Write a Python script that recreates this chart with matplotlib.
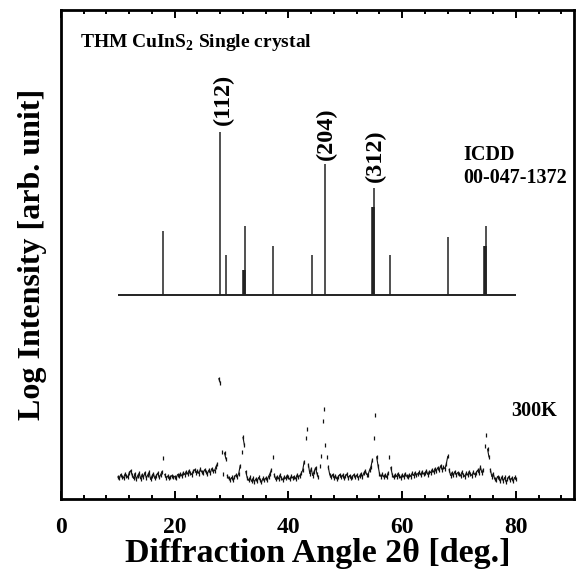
import numpy as np
import matplotlib
matplotlib.use("Agg")
import matplotlib.pyplot as plt
from matplotlib.ticker import MultipleLocator

plt.rcParams['font.family'] = ['Liberation Serif', 'DejaVu Serif']
plt.rcParams['font.weight'] = 'bold'
plt.rcParams['mathtext.fontset'] = 'custom'
plt.rcParams['mathtext.rm'] = 'Liberation Serif:bold'
plt.rcParams['mathtext.bf'] = 'Liberation Serif:bold'

# ICDD 00-047-1372 reference sticks (2theta, top level in arb. log units)
stick_pos = [18.0, 28.0, 29.0, 32.2, 32.4, 37.3, 44.1, 46.4, 54.8, 55.0, 57.8, 68.0, 74.6, 74.8]
stick_top = [54.8, 75.1, 49.8, 46.8, 55.8, 51.8, 49.8, 68.5, 59.8, 63.7, 49.8, 53.6, 51.8, 55.9]
stick_thick = [False, False, False, True, False, False, False, False, True, False, False, False, True, False]
stick_base = 41.7
stick_range = [10, 80]

# Miller index labels
hkl_labels = ['(112)', '(204)', '(312)']
hkl_x = [28.5, 46.6, 55.2]
hkl_y = [76.5, 69.3, 64.9]

# Measured XRD pattern at 300 K (2theta from 10 to 80 deg, step 0.25)
meas_start, meas_stop, meas_step = 10.0, 80.0, 0.25
meas_int = [
    4.5, 4.2, 5.0, 4.6,   4.3, 5.1, 4.8, 4.4,   5.4, 5.8, 4.9, 4.2,   5.2, 4.0, 4.8, 5.3,
    4.1, 5.0, 4.5, 5.4,   4.3, 4.9, 5.5, 4.0,   4.7, 5.2, 4.2, 4.8,   5.3, 4.4, 4.9, 5.6,
    8.4, 5.0, 4.3, 4.7,   4.2, 4.5, 4.8, 4.4,   4.6, 4.3, 5.0, 4.8,   5.2, 4.7, 5.4, 5.0,
    5.6, 5.1, 5.8, 5.3,   5.0, 5.7, 6.0, 5.4,   5.8, 5.2, 6.1, 5.5,   5.4, 6.0, 5.6, 5.2,
    5.9, 5.3, 6.2, 5.7,   5.8, 6.6, 7.2, 24.6,  23.8, 9.6, 5.2, 9.4,   8.2, 4.8, 4.2, 3.9,
    4.4, 3.8, 4.5, 4.9,   4.6, 5.2, 6.8, 9.6,   12.6, 11.0, 5.6, 4.3, 3.8, 4.4, 3.6, 4.2,
    3.5, 4.1, 3.7, 4.4,   3.9, 3.4, 4.2, 3.8,   4.3, 3.9, 4.6, 5.2,   6.0, 8.6, 5.0, 4.0,
    4.6, 4.1, 4.9, 4.3,   3.9, 4.5, 4.2, 4.8,   4.4, 4.0, 4.7, 4.3,   4.6, 4.1, 4.9, 4.5,
    4.8, 5.3, 5.9, 7.6,   12.5, 14.3, 7.0, 5.2, 6.2, 4.8, 5.6, 6.4,   5.2, 4.4, 6.8, 8.8,
    16.0, 18.5, 11.0, 8.6, 6.5, 5.0, 4.4, 5.0,  4.3, 4.8, 4.1, 4.6,   5.0, 4.4, 4.9, 4.2,
    4.7, 5.1, 4.3, 4.8,   4.2, 4.6, 5.0, 4.4,   4.9, 4.3, 4.7, 5.2,   4.6, 5.3, 5.8, 5.0,
    5.0, 5.9, 6.6, 8.0,   12.5, 17.2, 8.6, 6.8, 5.2, 4.6, 5.1, 4.5,   5.0, 4.4, 5.3, 8.6,
    6.4, 5.0, 4.4, 5.0,   4.6, 5.2, 4.8, 4.3,   5.0, 4.5, 5.2, 4.7,   4.4, 5.0, 4.6, 5.3,
    4.8, 5.4, 4.9, 5.2,   5.5, 4.9, 5.6, 5.1,   5.3, 5.8, 5.0, 5.6,   5.4, 6.0, 5.5, 6.2,
    5.8, 6.4, 5.9, 6.8,   6.0, 6.5, 6.2, 7.2,   8.7, 6.0, 4.8, 5.4,   4.9, 5.6, 5.0, 5.4,
    5.2, 4.7, 5.5, 5.0,   4.6, 5.3, 4.9, 5.6,   5.1, 4.8, 5.5, 5.0,   5.4, 5.9, 5.3, 6.5,
    5.4, 6.0, 10.8, 13.1, 10.2, 8.6, 6.0, 4.6,  5.2, 4.1, 3.8, 4.6,   4.2, 3.6, 4.5, 3.7,
    4.4, 3.5, 4.0, 4.6,   3.8, 4.3, 3.6, 4.4,   4.0,
]
meas_2theta = np.arange(meas_start, meas_stop + meas_step / 2, meas_step)
meas_y = np.array(meas_int[:len(meas_2theta)], dtype=float)

x_ticks = [0, 20, 40, 60, 80]

fig = plt.figure(figsize=(5.77, 5.72), dpi=100)
ax = fig.add_axes([61 / 577, 1 - 499 / 572, (574 - 61) / 577, (499 - 10) / 572])

# reference sticks
ax.hlines(stick_base, stick_range[0], stick_range[1], color='#222222', lw=1.4)
for p, t, th in zip(stick_pos, stick_top, stick_thick):
    ax.vlines(p, stick_base, t, color='#222222', lw=2.6 if th else 1.1)

for lab, lx, ly in zip(hkl_labels, hkl_x, hkl_y):
    ax.text(lx, ly, lab, rotation=90, ha='center', va='bottom',
            fontsize=17.5, fontweight='bold')

# measured pattern: thin line broken at steep jumps, plus dash markers
seg_x, seg_y = [], []
for i in range(len(meas_2theta)):
    if i > 0 and abs(meas_y[i] - meas_y[i - 1]) > 1.8:
        seg_x.append(np.nan)
        seg_y.append(np.nan)
    seg_x.append(meas_2theta[i])
    seg_y.append(meas_y[i])
ax.plot(seg_x, seg_y, color='#111111', lw=0.8)
ax.plot(meas_2theta, meas_y, linestyle='none', marker='|',
        markersize=3.5, markeredgewidth=0.9, color='#111111')

ax.text(3.3, 93.3, r'THM CuInS$_2$ Single crystal', ha='left', va='center',
        fontsize=14, fontweight='bold')
ax.text(70.7, 70.3, 'ICDD', ha='left', va='center', fontsize=14.5, fontweight='bold')
ax.text(70.7, 65.6, '00-047-1372', ha='left', va='center', fontsize=14.5, fontweight='bold')
ax.text(79.2, 17.9, '300K', ha='left', va='center', fontsize=14.5, fontweight='bold')

ax.set_xlim(0, 90.2)
ax.set_ylim(0, 100)
ax.set_xticks(x_ticks)
ax.xaxis.set_minor_locator(MultipleLocator(4))
ax.tick_params(axis='x', which='both', direction='in', top=True, bottom=True,
               labelsize=17, pad=13, width=1.4)
ax.tick_params(axis='x', which='major', length=6)
ax.tick_params(axis='x', which='minor', length=3)
ax.set_yticks([])
for lab in ax.get_xticklabels():
    lab.set_fontweight('bold')
for sp in ax.spines.values():
    sp.set_linewidth(2.0)

ax.set_xlabel('Diffraction Angle 2θ [deg.]', fontsize=24.5, fontweight='bold', labelpad=0)
ax.set_ylabel('Log Intensity [arb. unit]', fontsize=23, fontweight='bold', labelpad=10)

fig.savefig('out.png', dpi=100)
